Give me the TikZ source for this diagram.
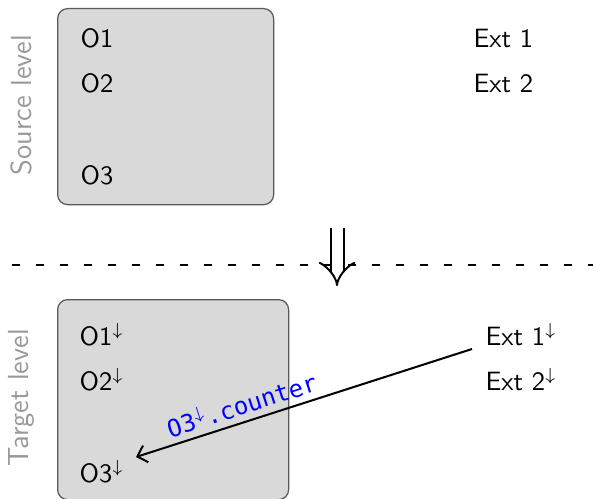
\documentclass[tikz,border=0pt]{standalone}
\usepackage{fontspec}
\setmonofont{DejaVu Sans Mono}
\usetikzlibrary{arrows.meta}
\begin{document}
\begin{tikzpicture}[x=0.4pt,y=-0.4pt,
  levelbox/.style={draw=black!65, fill=black!15, line width=0.5pt,
    rounded corners=4pt, anchor=north west, inner sep=0pt},
  item/.style={anchor=base west, inner sep=0pt,
    font=\sffamily\fontsize{10.6}{12}\selectfont},
  sidelabel/.style={rotate=90, inner sep=0pt, text=black!40,
    font=\sffamily\fontsize{11.6}{13}\selectfont},
  link/.style={draw=black, line width=0.8pt,
    -{Straight Barb[length=3.5pt,width=7pt]}},
  linklabel/.style={text=blue, font=\ttfamily\fontsize{9.6}{11}\selectfont,
    sloped, above, inner sep=2.5pt}]
  \useasboundingbox (0,0) rectangle (593,499);

  % source level
  \node[levelbox, minimum width=86.4pt, minimum height=78.4pt] (srcbox) at (57,8) {};
  \node[sidelabel] (srclbl) at (21,105) {Source level};
  \node[item] (s1) at (80,48) {O1};
  \node[item] (s2) at (80,93) {O2};
  \node[item] (s3) at (80,185) {O3};
  \node[item] (e1) at (473,48) {Ext 1};
  \node[item] (e2) at (473,93) {Ext 2};

  % separator and refinement arrow
  \coordinate (sepL) at (12,265);
  \coordinate (sepR) at (593,265);
  \draw[line width=0.8pt, dash pattern=on 3.3pt off 6.3pt] (sepL) -- (sepR);
  \coordinate (refA) at (337,228);
  \coordinate (refB) at (337,286);
  \draw[line width=0.8pt, double, double distance=4.4pt, -{Implies[scale=1.15]}] (refA) -- (refB);

  % target level
  \node[levelbox, minimum width=92.4pt, minimum height=80pt] (tgtbox) at (57,299) {};
  \node[sidelabel] (tgtlbl) at (21,398) {Target level};
  \node[item] (t1) at (79,345) {O1$^\downarrow$};
  \node[item] (t2) at (79,390) {O2$^\downarrow$};
  \node[item] (t3) at (79,482) {O3$^\downarrow$};
  \node[item] (f1) at (485,345) {Ext 1$^\downarrow$};
  \node[item] (f2) at (485,390) {Ext 2$^\downarrow$};

  % reference from the external entity to O3
  \coordinate (lkA) at (472,349);
  \coordinate (lkB) at (136,457);
  \draw[link] (lkA) -- node[linklabel, pos=0.67] {O3$^\downarrow$.counter} (lkB);
\end{tikzpicture}
\end{document}
